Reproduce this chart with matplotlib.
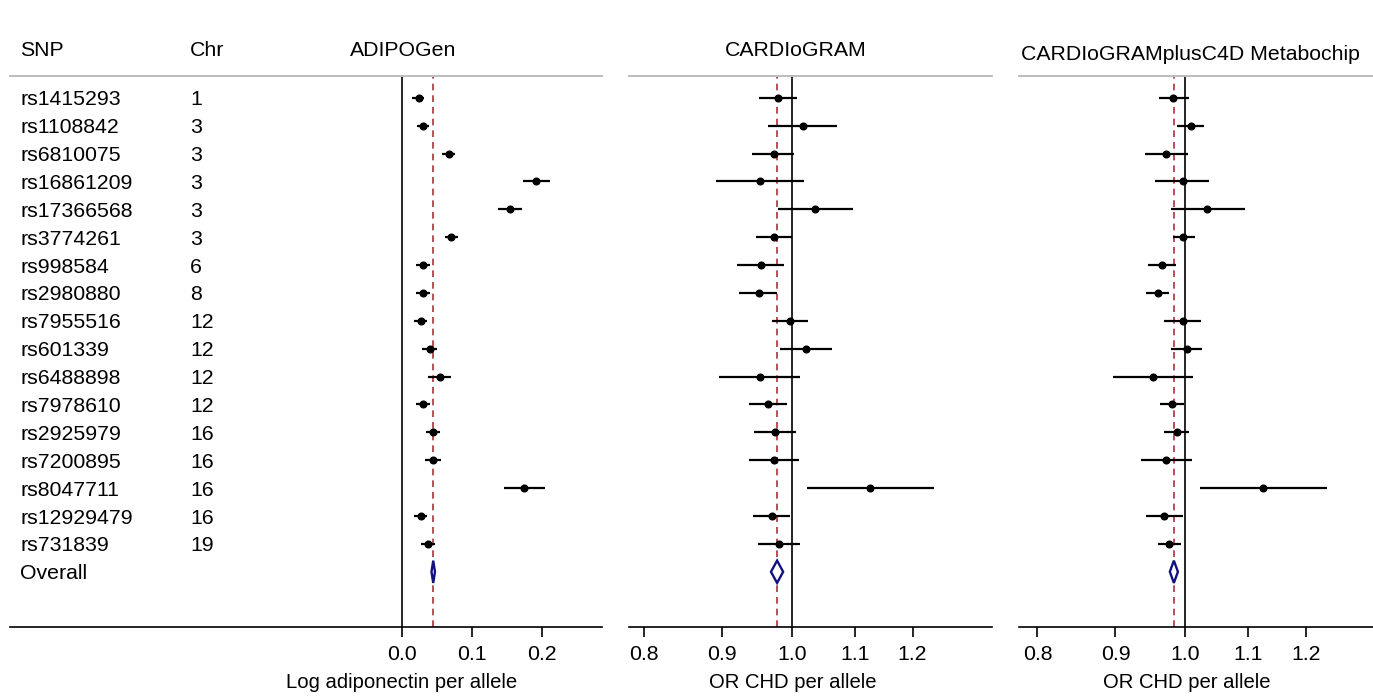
import matplotlib
matplotlib.use("Agg")
import matplotlib.pyplot as plt
from matplotlib.patches import Polygon
from matplotlib.ticker import NullLocator
from matplotlib import transforms

plt.rcParams["font.family"] = ["Liberation Sans", "DejaVu Sans"]
plt.rcParams["font.size"] = 15.3

snps = ["rs1415293", "rs1108842", "rs6810075", "rs16861209", "rs17366568",
        "rs3774261", "rs998584", "rs2980880", "rs7955516", "rs601339",
        "rs6488898", "rs7978610", "rs2925979", "rs7200895", "rs8047711",
        "rs12929479", "rs731839"]
chrs = ["1", "3", "3", "3", "3", "3", "6", "8", "12", "12", "12", "12",
        "16", "16", "16", "16", "19"]

# ADIPOGen: log adiponectin per allele (beta, lower, upper)
adipo_est = [0.024, 0.030, 0.067, 0.192, 0.155, 0.070, 0.030, 0.030, 0.027,
             0.040, 0.054, 0.031, 0.045, 0.044, 0.175, 0.027, 0.037]
adipo_lo = [0.015, 0.022, 0.058, 0.173, 0.138, 0.062, 0.020, 0.020, 0.018,
            0.029, 0.038, 0.021, 0.035, 0.033, 0.146, 0.018, 0.028]
adipo_hi = [0.032, 0.039, 0.076, 0.212, 0.172, 0.080, 0.040, 0.040, 0.036,
            0.051, 0.071, 0.040, 0.054, 0.056, 0.205, 0.036, 0.047]
adipo_overall = (0.045, 0.0425, 0.0475)

# CARDIoGRAM: OR CHD per allele
card_est = [0.979, 1.017, 0.973, 0.953, 1.035, 0.974, 0.954, 0.951, 0.997,
            1.021, 0.953, 0.964, 0.975, 0.973, 1.126, 0.970, 0.981]
card_lo = [0.951, 0.965, 0.941, 0.892, 0.979, 0.947, 0.920, 0.924, 0.970,
           0.982, 0.896, 0.937, 0.945, 0.937, 1.023, 0.943, 0.950]
card_hi = [1.008, 1.071, 1.004, 1.018, 1.096, 1.000, 0.989, 0.978, 1.025,
           1.062, 1.013, 0.992, 1.006, 1.011, 1.239, 0.997, 1.012]
card_overall = (0.978, 0.969, 0.987)

# CARDIoGRAMplusC4D Metabochip: OR CHD per allele
meta_est = [0.982, 1.008, 0.972, 0.996, 1.034, 0.997, 0.965, 0.959, 0.996,
            1.002, 0.952, 0.980, 0.987, 0.972, 1.125, 0.969, 0.976]
meta_lo = [0.961, 0.988, 0.941, 0.956, 0.978, 0.981, 0.945, 0.942, 0.969,
           0.979, 0.896, 0.963, 0.968, 0.936, 1.023, 0.943, 0.959]
meta_hi = [1.005, 1.028, 1.004, 1.037, 1.095, 1.015, 0.986, 0.976, 1.024,
           1.025, 1.012, 0.998, 1.005, 1.011, 1.238, 0.997, 0.994]
meta_overall = (0.983, 0.977, 0.989)

W, H = 1373, 696
fig = plt.figure(figsize=(W / 100, H / 100), dpi=100)


def px_box(x0, x1, y_top, y_bot):
    return [x0 / W, 1 - y_bot / H, (x1 - x0) / W, (y_bot - y_top) / H]


rows = list(range(1, len(snps) + 1))
overall_row = len(snps) + 1


def forest(ax, est, lo, hi, overall, ref, log=False):
    ax.hlines(rows, lo, hi, color="black", lw=1.6, zorder=3)
    ax.plot(est, rows, "o", color="black", ms=4.8, zorder=4)
    d_est, d_lo, d_hi = overall
    h = 0.4
    ax.add_patch(Polygon([(d_lo, overall_row), (d_est, overall_row - h),
                          (d_hi, overall_row), (d_est, overall_row + h)],
                         closed=True, facecolor="white", edgecolor="#111180",
                         lw=1.7, zorder=4))
    ax.axvline(ref, color="black", lw=1.2, zorder=2)
    ax.axvline(d_est, color="#a8323a", lw=1.2, ls=(0, (4, 3)), zorder=2)
    if log:
        ax.set_xscale("log")
    ax.set_ylim(19.98, 0.22)
    ax.set_yticks([])
    for s in ("left", "right"):
        ax.spines[s].set_visible(False)
    ax.spines["top"].set_color("#bdbdbd")
    ax.spines["top"].set_linewidth(1.4)
    ax.spines["bottom"].set_linewidth(1.2)
    ax.tick_params(axis="x", direction="out", length=7, width=1.2, pad=6,
                   labelsize=15.3)
    ax.xaxis.set_minor_locator(NullLocator())


ax1 = fig.add_axes(px_box(10, 602, 76, 627))
forest(ax1, adipo_est, adipo_lo, adipo_hi, adipo_overall, 0.0)
ax1.set_xlim(-0.5596, 0.2861)
ax1.set_xticks([0.0, 0.1, 0.2])
ax1.set_xticklabels(["0.0", "0.1", "0.2"])

or_ticks = [0.8, 0.9, 1.0, 1.1, 1.2]
ax2 = fig.add_axes(px_box(629, 992, 76, 627))
forest(ax2, card_est, card_lo, card_hi, card_overall, 1.0, log=True)
ax2.set_xlim(0.782, 1.353)

ax3 = fig.add_axes(px_box(1019, 1382, 76, 627))
forest(ax3, meta_est, meta_lo, meta_hi, meta_overall, 1.0, log=True)
ax3.set_xlim(0.778, 1.346)

for ax in (ax2, ax3):
    ax.set_xticks(or_ticks)
    ax.set_xticklabels([f"{t:.1f}" for t in or_ticks])

# x-axis labels, centred under each panel's reference line
fig.text(401.7 / W, 1 - 683 / H, "Log adiponectin per allele", ha="center",
         va="center", fontsize=14.6)
fig.text(793 / W, 1 - 683 / H, "OR CHD per allele", ha="center",
         va="center", fontsize=14.6)
fig.text(1187 / W, 1 - 683 / H, "OR CHD per allele", ha="center",
         va="center", fontsize=14.6)

# column headers and panel titles
fig.text(20 / W, 1 - 50 / H, "SNP", ha="left", va="center")
fig.text(190 / W, 1 - 50 / H, "Chr", ha="left", va="center")
fig.text(403 / W, 1 - 51 / H, "ADIPOGen", ha="center", va="center")
fig.text(796 / W, 1 - 51 / H, "CARDIoGRAM", ha="center", va="center")
fig.text(1190 / W, 1 - 54 / H, "CARDIoGRAMplusC4D Metabochip",
         ha="center", va="center")

# SNP and chromosome columns, aligned with the rows of the first panel
tr = transforms.blended_transform_factory(fig.transFigure, ax1.transData)
for r, snp, c in zip(rows, snps, chrs):
    ax1.text(20 / W, r, snp, transform=tr, ha="left", va="center_baseline")
    ax1.text(190 / W, r, c, transform=tr, ha="left", va="center_baseline")
ax1.text(20 / W, overall_row, "Overall", transform=tr, ha="left",
         va="center_baseline")

fig.savefig("out.png", dpi=100)
